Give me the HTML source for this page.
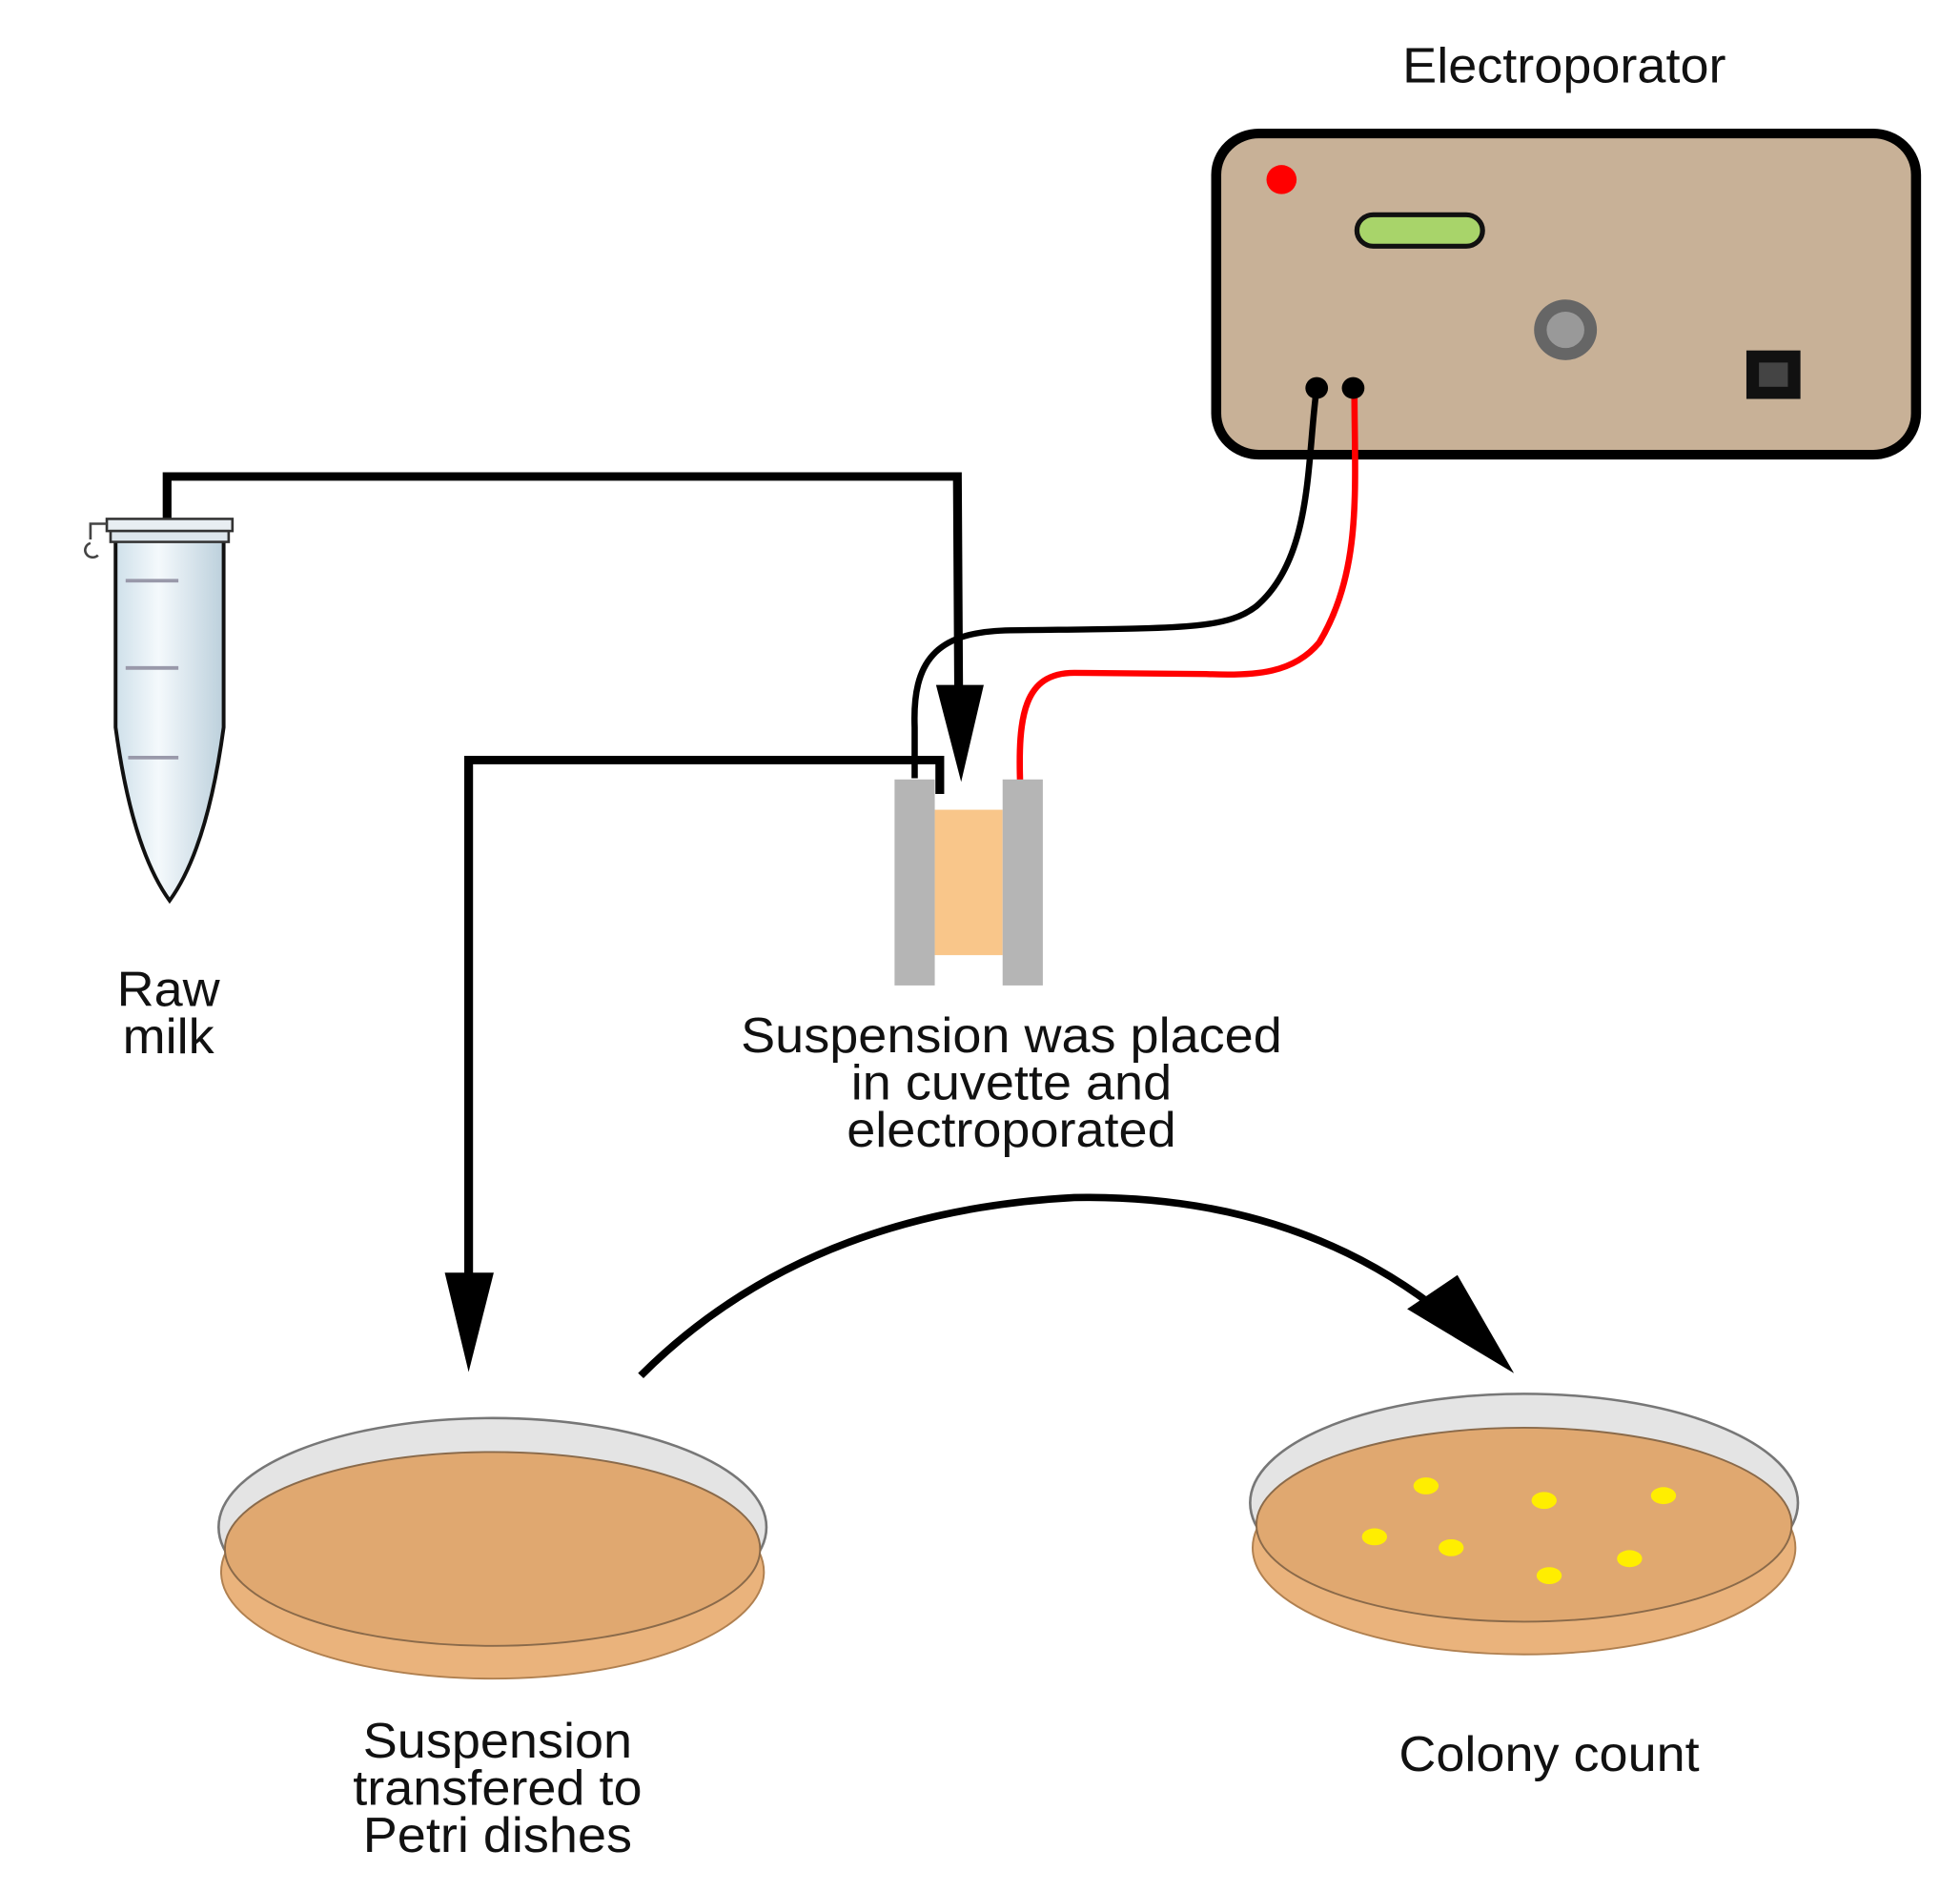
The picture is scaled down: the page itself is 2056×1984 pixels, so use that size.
<!DOCTYPE html>
<html><head><meta charset="utf-8"><style>
html,body{margin:0;padding:0;background:#fff;}
svg{display:block;}
text{font-family:"Liberation Sans",sans-serif;font-size:41px;fill:#111;text-anchor:middle;}
</style></head><body>
<svg width="2056" height="1984" viewBox="0 0 1560 1505" xmlns="http://www.w3.org/2000/svg">
<defs>
<linearGradient id="tg" x1="0" x2="1"><stop offset="0" stop-color="#cfe0ea"/><stop offset="0.4" stop-color="#f4f9fc"/><stop offset="1" stop-color="#bcd0dc"/></linearGradient>
</defs>
<g transform="scale(1,0.9647)">
<!-- Electroporator -->
<text x="1245" y="68">Electroporator</text>
<rect x="968" y="110" width="557" height="265" rx="34" fill="#c8b197" stroke="#000" stroke-width="8"/>
<circle cx="1020" cy="148" r="12" fill="#f00"/>
<rect x="1080" y="177" width="100" height="26" rx="13" fill="#a8d46a" stroke="#111" stroke-width="4"/>
<circle cx="1246" cy="272" r="25" fill="#666"/><circle cx="1246" cy="272" r="15" fill="#999"/>
<rect x="1390" y="289" width="43" height="40" fill="#111"/><rect x="1400" y="299" width="23" height="20" fill="#444"/>
<!-- wires -->
<path d="M1048 320 C1040 380 1045 460 1000 500 C975 520 940 518 800 520 C745 522 726 545 728 600 L728 642" fill="none" stroke="#000" stroke-width="5"/>
<path d="M1078 320 C1078 400 1085 470 1050 530 C1030 555 1000 558 960 556 L855 555 C815 555 810 590 812 648" fill="none" stroke="#f00" stroke-width="5"/>
<circle cx="1048" cy="320" r="9" fill="#000"/><circle cx="1077" cy="320" r="9" fill="#000"/>
<!-- cuvette -->
<rect x="744" y="668" width="54" height="120" fill="#f9c68a"/>
<rect x="712" y="643" width="32" height="170" fill="#b5b5b5"/>
<rect x="798" y="643" width="32" height="170" fill="#b5b5b5"/>
<!-- arrows -->
<path d="M133 430 L133 393 L762 393 L763 570" fill="none" stroke="#000" stroke-width="7"/>
<polygon points="745,565 783,565 765,645" fill="#000"/>
<path d="M748 655 L748 627 L373 627 L373 1055" fill="none" stroke="#000" stroke-width="7"/>
<polygon points="354,1050 393,1050 373,1132" fill="#000"/>
<path d="M510 1135 Q640 1000 855 988 Q1030 985 1150 1085" fill="none" stroke="#000" stroke-width="6"/>
<polygon points="1120,1080 1160,1052 1205,1133" fill="#000"/>
<!-- tube -->
<g>
<path d="M92 445 L178 445 L178 600 Q165 700 135 743 Q105 700 92 600 Z" fill="url(#tg)" stroke="#111" stroke-width="3"/>
<rect x="85" y="428" width="100" height="10" fill="#e8eef2" stroke="#333" stroke-width="2"/>
<rect x="88" y="438" width="94" height="9" fill="#dde6ec" stroke="#333" stroke-width="2"/>
<path d="M85 432 L72 432 L72 445 M72 448 a6 6 0 1 0 6 10" fill="none" stroke="#444" stroke-width="2"/>
<line x1="100" y1="479" x2="142" y2="479" stroke="#99a" stroke-width="3"/>
<line x1="100" y1="551" x2="142" y2="551" stroke="#99a" stroke-width="3"/>
<line x1="102" y1="625" x2="142" y2="625" stroke="#99a" stroke-width="3"/>
</g>
<!-- dish 1 -->
<g>
<ellipse cx="392" cy="1297" rx="216" ry="88" fill="#eab37c" stroke="#b08050" stroke-width="1.5"/>
<ellipse cx="392" cy="1260" rx="218" ry="90" fill="#e4e4e4" stroke="#777" stroke-width="2"/>
<ellipse cx="392" cy="1278" rx="213" ry="80" fill="#e0a870" stroke="#8a6a4a" stroke-width="1.5"/>
</g>
<!-- dish 2 -->
<g>
<ellipse cx="1213" cy="1277" rx="216" ry="88" fill="#eab37c" stroke="#b08050" stroke-width="1.5"/>
<ellipse cx="1213" cy="1240" rx="218" ry="90" fill="#e4e4e4" stroke="#777" stroke-width="2"/>
<ellipse cx="1213" cy="1258" rx="213" ry="80" fill="#e0a870" stroke="#8a6a4a" stroke-width="1.5"/>
<g fill="#ffee00">
<ellipse cx="1135" cy="1226" rx="10" ry="7"/><ellipse cx="1229" cy="1238" rx="10" ry="7"/>
<ellipse cx="1324" cy="1234" rx="10" ry="7"/><ellipse cx="1094" cy="1268" rx="10" ry="7"/>
<ellipse cx="1155" cy="1277" rx="10" ry="7"/><ellipse cx="1233" cy="1300" rx="10" ry="7"/>
<ellipse cx="1297" cy="1286" rx="10" ry="7"/>
</g>
</g>
<!-- labels -->
<text x="134" y="830">Raw</text><text x="134" y="869">milk</text>
<text x="805" y="868">Suspension was placed</text>
<text x="805" y="907">in cuvette and</text>
<text x="805" y="946">electroporated</text>
<text x="396" y="1450">Suspension</text>
<text x="396" y="1489">transfered to</text>
<text x="396" y="1528">Petri dishes</text>
<text x="1233" y="1461">Colony count</text>
</g>
</svg>
</body></html>
